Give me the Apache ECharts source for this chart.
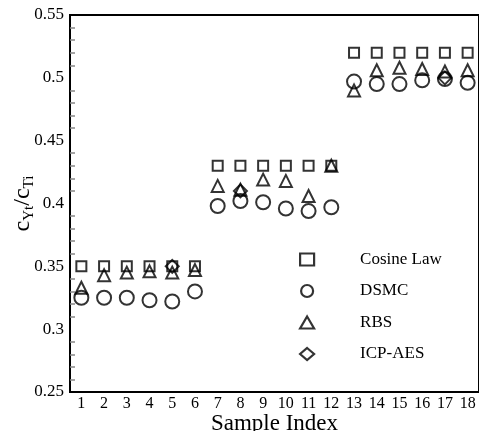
<!DOCTYPE html>
<html><head><meta charset="utf-8">
<script src="https://cdn.jsdelivr.net/npm/echarts@6/dist/echarts.min.js"></script>
<style>html,body{margin:0;padding:0;background:#fff;overflow:hidden}#c{width:479px;height:431px}</style>
</head><body><div id="c"></div>
<script>
const categories = ['1','2','3','4','5','6','7','8','9','10','11','12','13','14','15','16','17','18'];
const cosineLaw = [0.35,0.35,0.35,0.35,0.35,0.35,0.43,0.43,0.43,0.43,0.43,0.43,0.52,0.52,0.52,0.52,0.52,0.52];
const dsmc = [0.325,0.325,0.325,0.323,0.322,0.33,0.398,0.402,0.401,0.396,0.394,0.397,0.497,0.495,0.495,0.498,0.499,0.496];
const rbs = [0.333,0.343,0.345,0.346,0.345,0.347,0.414,0.411,0.419,0.418,0.406,0.43,0.49,0.506,0.508,0.507,0.505,0.506];
const icpIdx = ['5','8','17'];
const icpVal = [0.35,0.41,0.5];
const yTicks = {min:0.25, max:0.55, step:0.05};

const font = 'Liberation Serif';
const hollow = {color:'rgba(0,0,0,0)', borderColor:'#000', borderWidth:2};
const chart = echarts.init(document.getElementById('c'));
chart.setOption({
  animation:false,
  backgroundColor:'#fff',
  grid:{left:70, top:15, right:0, bottom:39, show:true, borderColor:'#000', borderWidth:2,
        containLabel:false, outerBoundsMode:'none'},
  legend:{
    orient:'vertical', left:294, top:246, itemGap:14.5, itemWidth:14, itemHeight:12,
    itemStyle:{borderWidth:2.2},
    textStyle:{fontFamily:font, fontSize:17, color:'#000', padding:[0,0,0,41]},
    data:['Cosine Law','DSMC','RBS','ICP-AES']
  },
  xAxis:{
    type:'category', data:categories, boundaryGap:true,
    name:'Sample Index', nameLocation:'middle', nameGap:20, nameMoveOverlap:false,
    nameTextStyle:{fontFamily:font, fontSize:23, color:'#000'},
    axisLine:{lineStyle:{color:'#000', width:2}},
    axisTick:{alignWithLabel:true, inside:true, length:7, lineStyle:{color:'#000', width:2}},
    axisLabel:{fontFamily:font, fontSize:16, color:'#000', margin:4, interval:0},
    splitLine:{show:false}
  },
  yAxis:{
    type:'value', min:yTicks.min, max:yTicks.max, interval:yTicks.step,
    name:'{a|c}{s|Yt}{a|/c}{s|Ti}', nameLocation:'middle', nameGap:33, nameMoveOverlap:false,
    nameTextStyle:{fontFamily:font, color:'#000', rich:{
      a:{fontFamily:font, fontSize:24, color:'#000'},
      s:{fontFamily:font, fontSize:15, color:'#000', padding:[13,0,0,0]}
    }},
    axisLine:{lineStyle:{color:'#000', width:2}},
    axisTick:{inside:true, length:8, lineStyle:{color:'#000', width:2}},
    minorTick:{show:true, splitNumber:5, length:5, lineStyle:{color:'#888', width:1.5}},
    axisLabel:{fontFamily:font, fontSize:17, color:'#000', margin:6},
    splitLine:{show:false}
  },
  series:[
    {name:'Cosine Law', type:'scatter', symbol:'rect', symbolSize:10, itemStyle:hollow,
     data:categories.map((c,i)=>[c,cosineLaw[i]])},
    {name:'DSMC', type:'scatter', symbol:'circle', symbolSize:14, itemStyle:hollow,
     data:categories.map((c,i)=>[c,dsmc[i]])},
    {name:'RBS', type:'scatter', symbol:'triangle', symbolSize:12, itemStyle:hollow,
     data:categories.map((c,i)=>[c,rbs[i]])},
    {name:'ICP-AES', type:'scatter', symbol:'diamond', symbolSize:13, itemStyle:hollow,
     data:icpIdx.map((c,i)=>[c,icpVal[i]])}
  ]
});
</script></body></html>
